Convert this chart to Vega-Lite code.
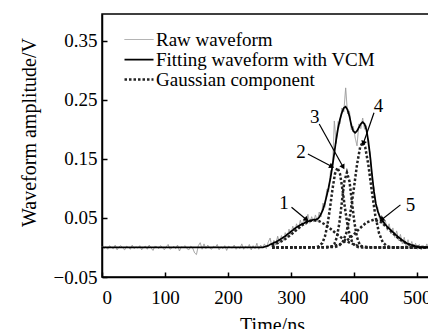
{
"$schema":"https://vega.github.io/schema/vega-lite/v6.json",
"autosize":"none",
"padding":{"left":102,"top":14,"right":-14,"bottom":52},
"width":340,"height":263,
"background":"white",
"config":{
 "font":"Liberation Serif",
 "view":{"stroke":"black","strokeWidth":1.5},
 "axis":{"grid":false,"domainColor":"black","domainWidth":1.5,"tickColor":"black","tickWidth":1.5,"tickSize":-5,"labelColor":"black","titleColor":"black","labelFont":"Liberation Serif","titleFont":"Liberation Serif","labelFontSize":19,"titleFontSize":20,"titleFontWeight":"normal"},
 "legend":{"orient":"none","legendX":21,"legendY":16,"padding":0,"rowPadding":0,"clipHeight":19,"symbolType":"stroke","symbolSize":841,"labelFont":"Liberation Serif","labelFontSize":19,"labelColor":"black","labelOffset":1,"title":null,"labelLimit":400}
},
"layer":[
{
"data":{"values":[
{"s":"raw","c":"raw","t":0,"v":0.002},{"s":"raw","c":"raw","t":3,"v":-0.002},{"s":"raw","c":"raw","t":6,"v":0.001},{"s":"raw","c":"raw","t":9,"v":-0.003},{"s":"raw","c":"raw","t":12,"v":0.003},{"s":"raw","c":"raw","t":15,"v":0},{"s":"raw","c":"raw","t":18,"v":-0.002},{"s":"raw","c":"raw","t":21,"v":0.004},{"s":"raw","c":"raw","t":24,"v":-0.004},{"s":"raw","c":"raw","t":27,"v":0.001},{"s":"raw","c":"raw","t":30,"v":0.003},{"s":"raw","c":"raw","t":33,"v":-0.001},{"s":"raw","c":"raw","t":36,"v":-0.004},{"s":"raw","c":"raw","t":39,"v":0.002},{"s":"raw","c":"raw","t":42,"v":0},{"s":"raw","c":"raw","t":45,"v":-0.003},{"s":"raw","c":"raw","t":48,"v":0.004},{"s":"raw","c":"raw","t":51,"v":-0.002},{"s":"raw","c":"raw","t":54,"v":0.001},{"s":"raw","c":"raw","t":57,"v":-0.001},{"s":"raw","c":"raw","t":60,"v":0.003},{"s":"raw","c":"raw","t":63,"v":-0.004},{"s":"raw","c":"raw","t":66,"v":0},{"s":"raw","c":"raw","t":69,"v":0.002},{"s":"raw","c":"raw","t":72,"v":-0.003},{"s":"raw","c":"raw","t":75,"v":0.004},{"s":"raw","c":"raw","t":78,"v":-0.001},{"s":"raw","c":"raw","t":81,"v":-0.005},{"s":"raw","c":"raw","t":84,"v":0.002},{"s":"raw","c":"raw","t":87,"v":0.001},{"s":"raw","c":"raw","t":90,"v":-0.002},{"s":"raw","c":"raw","t":93,"v":0.003},{"s":"raw","c":"raw","t":96,"v":0},{"s":"raw","c":"raw","t":99,"v":-0.004},{"s":"raw","c":"raw","t":102,"v":0.001},{"s":"raw","c":"raw","t":105,"v":0.005},{"s":"raw","c":"raw","t":108,"v":-0.003},{"s":"raw","c":"raw","t":111,"v":-0.001},{"s":"raw","c":"raw","t":114,"v":0.002},{"s":"raw","c":"raw","t":117,"v":-0.002},{"s":"raw","c":"raw","t":120,"v":0.004},{"s":"raw","c":"raw","t":123,"v":-0.006},{"s":"raw","c":"raw","t":126,"v":0.001},{"s":"raw","c":"raw","t":129,"v":0},{"s":"raw","c":"raw","t":132,"v":0.003},{"s":"raw","c":"raw","t":135,"v":-0.002},{"s":"raw","c":"raw","t":138,"v":-0.004},{"s":"raw","c":"raw","t":141,"v":0.002},{"s":"raw","c":"raw","t":144,"v":-0.001},{"s":"raw","c":"raw","t":147,"v":-0.009},{"s":"raw","c":"raw","t":150,"v":-0.012},{"s":"raw","c":"raw","t":153,"v":0.003},{"s":"raw","c":"raw","t":156,"v":0.008},{"s":"raw","c":"raw","t":159,"v":-0.003},{"s":"raw","c":"raw","t":162,"v":0.006},{"s":"raw","c":"raw","t":165,"v":-0.002},{"s":"raw","c":"raw","t":168,"v":0.004},{"s":"raw","c":"raw","t":171,"v":-0.001},{"s":"raw","c":"raw","t":174,"v":-0.003},{"s":"raw","c":"raw","t":177,"v":0.002},{"s":"raw","c":"raw","t":180,"v":0},{"s":"raw","c":"raw","t":183,"v":0.005},{"s":"raw","c":"raw","t":186,"v":-0.004},{"s":"raw","c":"raw","t":189,"v":0.001},{"s":"raw","c":"raw","t":192,"v":-0.002},{"s":"raw","c":"raw","t":195,"v":0.003},{"s":"raw","c":"raw","t":198,"v":-0.005},{"s":"raw","c":"raw","t":201,"v":0.002},{"s":"raw","c":"raw","t":204,"v":0},{"s":"raw","c":"raw","t":207,"v":-0.001},{"s":"raw","c":"raw","t":210,"v":0.004},{"s":"raw","c":"raw","t":213,"v":-0.003},{"s":"raw","c":"raw","t":216,"v":0.001},{"s":"raw","c":"raw","t":219,"v":-0.002},{"s":"raw","c":"raw","t":222,"v":0.006},{"s":"raw","c":"raw","t":225,"v":-0.003},{"s":"raw","c":"raw","t":228,"v":0.002},{"s":"raw","c":"raw","t":231,"v":-0.001},{"s":"raw","c":"raw","t":234,"v":0.005},{"s":"raw","c":"raw","t":237,"v":-0.004},{"s":"raw","c":"raw","t":240,"v":0.003},{"s":"raw","c":"raw","t":243,"v":-0.002},{"s":"raw","c":"raw","t":246,"v":0.007},{"s":"raw","c":"raw","t":249,"v":-0.003},{"s":"raw","c":"raw","t":252,"v":0.004},{"s":"raw","c":"raw","t":255,"v":-0.001},{"s":"raw","c":"raw","t":258,"v":0.006},{"s":"raw","c":"raw","t":261,"v":-0.002},{"s":"raw","c":"raw","t":264,"v":0.009},{"s":"raw","c":"raw","t":267,"v":0.016},{"s":"raw","c":"raw","t":270,"v":0.001},{"s":"raw","c":"raw","t":273,"v":0.012},{"s":"raw","c":"raw","t":276,"v":0.004},{"s":"raw","c":"raw","t":279,"v":0.019},{"s":"raw","c":"raw","t":282,"v":0.008},{"s":"raw","c":"raw","t":285,"v":0.02},{"s":"raw","c":"raw","t":288,"v":0.012},{"s":"raw","c":"raw","t":291,"v":0.025},{"s":"raw","c":"raw","t":294,"v":0.017},{"s":"raw","c":"raw","t":297,"v":0.031},{"s":"raw","c":"raw","t":300,"v":0.022},{"s":"raw","c":"raw","t":303,"v":0.036},{"s":"raw","c":"raw","t":306,"v":0.027},{"s":"raw","c":"raw","t":309,"v":0.04},{"s":"raw","c":"raw","t":312,"v":0.031},{"s":"raw","c":"raw","t":315,"v":0.046},{"s":"raw","c":"raw","t":318,"v":0.036},{"s":"raw","c":"raw","t":321,"v":0.049},{"s":"raw","c":"raw","t":324,"v":0.038},{"s":"raw","c":"raw","t":327,"v":0.056},{"s":"raw","c":"raw","t":330,"v":0.041},{"s":"raw","c":"raw","t":333,"v":0.052},{"s":"raw","c":"raw","t":336,"v":0.043},{"s":"raw","c":"raw","t":339,"v":0.055},{"s":"raw","c":"raw","t":342,"v":0.044},{"s":"raw","c":"raw","t":345,"v":0.06},{"s":"raw","c":"raw","t":348,"v":0.052},{"s":"raw","c":"raw","t":351,"v":0.075},{"s":"raw","c":"raw","t":354,"v":0.068},{"s":"raw","c":"raw","t":357,"v":0.098},{"s":"raw","c":"raw","t":360,"v":0.094},{"s":"raw","c":"raw","t":363,"v":0.13},{"s":"raw","c":"raw","t":366,"v":0.131},{"s":"raw","c":"raw","t":369,"v":0.214},{"s":"raw","c":"raw","t":372,"v":0.176},{"s":"raw","c":"raw","t":375,"v":0.213},{"s":"raw","c":"raw","t":378,"v":0.209},{"s":"raw","c":"raw","t":381,"v":0.236},{"s":"raw","c":"raw","t":384,"v":0.229},{"s":"raw","c":"raw","t":387,"v":0.27},{"s":"raw","c":"raw","t":390,"v":0.226},{"s":"raw","c":"raw","t":393,"v":0.231},{"s":"raw","c":"raw","t":396,"v":0.199},{"s":"raw","c":"raw","t":399,"v":0.205},{"s":"raw","c":"raw","t":402,"v":0.186},{"s":"raw","c":"raw","t":405,"v":0.172},{"s":"raw","c":"raw","t":408,"v":0.209},{"s":"raw","c":"raw","t":411,"v":0.201},{"s":"raw","c":"raw","t":414,"v":0.219},{"s":"raw","c":"raw","t":417,"v":0.2},{"s":"raw","c":"raw","t":420,"v":0.206},{"s":"raw","c":"raw","t":423,"v":0.171},{"s":"raw","c":"raw","t":426,"v":0.16},{"s":"raw","c":"raw","t":429,"v":0.115},{"s":"raw","c":"raw","t":432,"v":0.101},{"s":"raw","c":"raw","t":435,"v":0.068},{"s":"raw","c":"raw","t":438,"v":0.068},{"s":"raw","c":"raw","t":441,"v":0.047},{"s":"raw","c":"raw","t":444,"v":0.054},{"s":"raw","c":"raw","t":447,"v":0.036},{"s":"raw","c":"raw","t":450,"v":0.046},{"s":"raw","c":"raw","t":453,"v":0.029},{"s":"raw","c":"raw","t":456,"v":0.04},{"s":"raw","c":"raw","t":459,"v":0.023},{"s":"raw","c":"raw","t":462,"v":0.033},{"s":"raw","c":"raw","t":465,"v":0.017},{"s":"raw","c":"raw","t":468,"v":0.028},{"s":"raw","c":"raw","t":471,"v":0.012},{"s":"raw","c":"raw","t":474,"v":0.022},{"s":"raw","c":"raw","t":477,"v":0.006},{"s":"raw","c":"raw","t":480,"v":0.017},{"s":"raw","c":"raw","t":483,"v":0.002},{"s":"raw","c":"raw","t":486,"v":0.013},{"s":"raw","c":"raw","t":489,"v":-0.001},{"s":"raw","c":"raw","t":492,"v":0.01},{"s":"raw","c":"raw","t":495,"v":-0.002},{"s":"raw","c":"raw","t":498,"v":0.007},{"s":"raw","c":"raw","t":501,"v":-0.003},{"s":"raw","c":"raw","t":504,"v":0.005},{"s":"raw","c":"raw","t":507,"v":-0.004},{"s":"raw","c":"raw","t":510,"v":0.003},{"s":"raw","c":"raw","t":513,"v":-0.002},{"s":"raw","c":"raw","t":516,"v":0.006},{"s":"raw","c":"raw","t":519,"v":-0.003},{"s":"raw","c":"raw","t":522,"v":0.002},{"s":"raw","c":"raw","t":525,"v":-0.004},{"s":"raw","c":"raw","t":528,"v":0.003},{"s":"raw","c":"raw","t":531,"v":0},{"s":"raw","c":"raw","t":534,"v":-0.003},{"s":"raw","c":"raw","t":537,"v":0.004},{"s":"raw","c":"raw","t":540,"v":-0.001},

{"s":"gau","c":"g1","t":270,"v":0.0038},{"s":"gau","c":"g1","t":280,"v":0.0076},{"s":"gau","c":"g1","t":290,"v":0.0135},{"s":"gau","c":"g1","t":300,"v":0.0215},{"s":"gau","c":"g1","t":310,"v":0.0307},{"s":"gau","c":"g1","t":320,"v":0.0392},{"s":"gau","c":"g1","t":330,"v":0.0448},{"s":"gau","c":"g1","t":337,"v":0.046},{"s":"gau","c":"g1","t":345,"v":0.0444},{"s":"gau","c":"g1","t":355,"v":0.0384},{"s":"gau","c":"g1","t":365,"v":0.0298},{"s":"gau","c":"g1","t":375,"v":0.0206},{"s":"gau","c":"g1","t":385,"v":0.0128},{"s":"gau","c":"g1","t":395,"v":0.0071},{"s":"gau","c":"g1","t":405,"v":0.0035},{"s":"gau","c":"g1","t":415,"v":0.0016},{"s":"gau","c":"g1","t":425,"v":0.0006},{"s":"gau","c":"g1","t":440,"v":0.0001},{"s":"gau","c":"g1","t":460,"v":0},{"s":"gau","c":"g1","t":540,"v":0},

{"s":"gau","c":"g2","t":270,"v":0},{"s":"gau","c":"g2","t":335,"v":0.0001},{"s":"gau","c":"g2","t":340,"v":0.0004},{"s":"gau","c":"g2","t":345,"v":0.002},{"s":"gau","c":"g2","t":350,"v":0.0076},{"s":"gau","c":"g2","t":354,"v":0.0183},{"s":"gau","c":"g2","t":358,"v":0.0375},{"s":"gau","c":"g2","t":362,"v":0.0657},{"s":"gau","c":"g2","t":366,"v":0.098},{"s":"gau","c":"g2","t":370,"v":0.1246},{"s":"gau","c":"g2","t":374,"v":0.135},{"s":"gau","c":"g2","t":378,"v":0.1246},{"s":"gau","c":"g2","t":382,"v":0.098},{"s":"gau","c":"g2","t":386,"v":0.0657},{"s":"gau","c":"g2","t":390,"v":0.0375},{"s":"gau","c":"g2","t":394,"v":0.0183},{"s":"gau","c":"g2","t":398,"v":0.0076},{"s":"gau","c":"g2","t":403,"v":0.002},{"s":"gau","c":"g2","t":408,"v":0.0004},{"s":"gau","c":"g2","t":413,"v":0},{"s":"gau","c":"g2","t":540,"v":0},

{"s":"gau","c":"g3","t":270,"v":0},{"s":"gau","c":"g3","t":360,"v":0.0002},{"s":"gau","c":"g3","t":365,"v":0.0014},{"s":"gau","c":"g3","t":369,"v":0.0056},{"s":"gau","c":"g3","t":373,"v":0.0172},{"s":"gau","c":"g3","t":377,"v":0.0412},{"s":"gau","c":"g3","t":381,"v":0.077},{"s":"gau","c":"g3","t":385,"v":0.1121},{"s":"gau","c":"g3","t":389,"v":0.127},{"s":"gau","c":"g3","t":393,"v":0.1121},{"s":"gau","c":"g3","t":397,"v":0.077},{"s":"gau","c":"g3","t":401,"v":0.0412},{"s":"gau","c":"g3","t":405,"v":0.0172},{"s":"gau","c":"g3","t":409,"v":0.0056},{"s":"gau","c":"g3","t":413,"v":0.0014},{"s":"gau","c":"g3","t":418,"v":0.0002},{"s":"gau","c":"g3","t":423,"v":0},{"s":"gau","c":"g3","t":540,"v":0},

{"s":"gau","c":"g4","t":270,"v":0},{"s":"gau","c":"g4","t":370,"v":0.0006},{"s":"gau","c":"g4","t":376,"v":0.0025},{"s":"gau","c":"g4","t":382,"v":0.0086},{"s":"gau","c":"g4","t":388,"v":0.0241},{"s":"gau","c":"g4","t":394,"v":0.0545},{"s":"gau","c":"g4","t":400,"v":0.0997},{"s":"gau","c":"g4","t":405,"v":0.14},{"s":"gau","c":"g4","t":410,"v":0.1698},{"s":"gau","c":"g4","t":414,"v":0.178},{"s":"gau","c":"g4","t":418,"v":0.1698},{"s":"gau","c":"g4","t":423,"v":0.14},{"s":"gau","c":"g4","t":428,"v":0.0997},{"s":"gau","c":"g4","t":434,"v":0.0545},{"s":"gau","c":"g4","t":440,"v":0.0241},{"s":"gau","c":"g4","t":446,"v":0.0086},{"s":"gau","c":"g4","t":452,"v":0.0025},{"s":"gau","c":"g4","t":458,"v":0.0006},{"s":"gau","c":"g4","t":465,"v":0},{"s":"gau","c":"g4","t":540,"v":0},

{"s":"gau","c":"g5","t":270,"v":0},{"s":"gau","c":"g5","t":350,"v":0.0003},{"s":"gau","c":"g5","t":360,"v":0.001},{"s":"gau","c":"g5","t":370,"v":0.0027},{"s":"gau","c":"g5","t":380,"v":0.0064},{"s":"gau","c":"g5","t":390,"v":0.0127},{"s":"gau","c":"g5","t":400,"v":0.022},{"s":"gau","c":"g5","t":410,"v":0.0329},{"s":"gau","c":"g5","t":420,"v":0.0423},{"s":"gau","c":"g5","t":432,"v":0.047},{"s":"gau","c":"g5","t":444,"v":0.0423},{"s":"gau","c":"g5","t":454,"v":0.0329},{"s":"gau","c":"g5","t":464,"v":0.022},{"s":"gau","c":"g5","t":474,"v":0.0127},{"s":"gau","c":"g5","t":484,"v":0.0064},{"s":"gau","c":"g5","t":494,"v":0.0027},{"s":"gau","c":"g5","t":504,"v":0.001},{"s":"gau","c":"g5","t":514,"v":0.0003},{"s":"gau","c":"g5","t":525,"v":0},{"s":"gau","c":"g5","t":540,"v":0},

{"s":"fit","c":"fit","t":0,"v":0},{"s":"fit","c":"fit","t":255,"v":0},{"s":"fit","c":"fit","t":258,"v":0.001},{"s":"fit","c":"fit","t":261,"v":0.002},{"s":"fit","c":"fit","t":264,"v":0.003},{"s":"fit","c":"fit","t":267,"v":0.005},{"s":"fit","c":"fit","t":270,"v":0.006},{"s":"fit","c":"fit","t":273,"v":0.008},{"s":"fit","c":"fit","t":276,"v":0.009},{"s":"fit","c":"fit","t":279,"v":0.011},{"s":"fit","c":"fit","t":282,"v":0.013},{"s":"fit","c":"fit","t":285,"v":0.015},{"s":"fit","c":"fit","t":288,"v":0.017},{"s":"fit","c":"fit","t":291,"v":0.019},{"s":"fit","c":"fit","t":294,"v":0.022},{"s":"fit","c":"fit","t":297,"v":0.024},{"s":"fit","c":"fit","t":300,"v":0.027},{"s":"fit","c":"fit","t":303,"v":0.029},{"s":"fit","c":"fit","t":306,"v":0.032},{"s":"fit","c":"fit","t":309,"v":0.034},{"s":"fit","c":"fit","t":312,"v":0.036},{"s":"fit","c":"fit","t":315,"v":0.038},{"s":"fit","c":"fit","t":318,"v":0.04},{"s":"fit","c":"fit","t":321,"v":0.041},{"s":"fit","c":"fit","t":324,"v":0.043},{"s":"fit","c":"fit","t":327,"v":0.044},{"s":"fit","c":"fit","t":330,"v":0.045},{"s":"fit","c":"fit","t":333,"v":0.046},{"s":"fit","c":"fit","t":336,"v":0.047},{"s":"fit","c":"fit","t":339,"v":0.047},{"s":"fit","c":"fit","t":342,"v":0.048},{"s":"fit","c":"fit","t":345,"v":0.051},{"s":"fit","c":"fit","t":348,"v":0.057},{"s":"fit","c":"fit","t":351,"v":0.064},{"s":"fit","c":"fit","t":354,"v":0.075},{"s":"fit","c":"fit","t":357,"v":0.088},{"s":"fit","c":"fit","t":360,"v":0.102},{"s":"fit","c":"fit","t":363,"v":0.118},{"s":"fit","c":"fit","t":366,"v":0.138},{"s":"fit","c":"fit","t":369,"v":0.16},{"s":"fit","c":"fit","t":372,"v":0.183},{"s":"fit","c":"fit","t":375,"v":0.202},{"s":"fit","c":"fit","t":378,"v":0.217},{"s":"fit","c":"fit","t":381,"v":0.228},{"s":"fit","c":"fit","t":384,"v":0.236},{"s":"fit","c":"fit","t":387,"v":0.238},{"s":"fit","c":"fit","t":390,"v":0.233},{"s":"fit","c":"fit","t":393,"v":0.222},{"s":"fit","c":"fit","t":396,"v":0.207},{"s":"fit","c":"fit","t":399,"v":0.197},{"s":"fit","c":"fit","t":402,"v":0.194},{"s":"fit","c":"fit","t":405,"v":0.197},{"s":"fit","c":"fit","t":408,"v":0.203},{"s":"fit","c":"fit","t":411,"v":0.209},{"s":"fit","c":"fit","t":414,"v":0.212},{"s":"fit","c":"fit","t":417,"v":0.209},{"s":"fit","c":"fit","t":420,"v":0.199},{"s":"fit","c":"fit","t":423,"v":0.18},{"s":"fit","c":"fit","t":426,"v":0.153},{"s":"fit","c":"fit","t":429,"v":0.122},{"s":"fit","c":"fit","t":432,"v":0.094},{"s":"fit","c":"fit","t":435,"v":0.074},{"s":"fit","c":"fit","t":438,"v":0.061},{"s":"fit","c":"fit","t":441,"v":0.053},{"s":"fit","c":"fit","t":444,"v":0.047},{"s":"fit","c":"fit","t":447,"v":0.043},{"s":"fit","c":"fit","t":450,"v":0.039},{"s":"fit","c":"fit","t":453,"v":0.035},{"s":"fit","c":"fit","t":456,"v":0.032},{"s":"fit","c":"fit","t":459,"v":0.029},{"s":"fit","c":"fit","t":462,"v":0.026},{"s":"fit","c":"fit","t":465,"v":0.023},{"s":"fit","c":"fit","t":468,"v":0.02},{"s":"fit","c":"fit","t":471,"v":0.017},{"s":"fit","c":"fit","t":474,"v":0.015},{"s":"fit","c":"fit","t":477,"v":0.012},{"s":"fit","c":"fit","t":480,"v":0.01},{"s":"fit","c":"fit","t":483,"v":0.008},{"s":"fit","c":"fit","t":486,"v":0.006},{"s":"fit","c":"fit","t":489,"v":0.005},{"s":"fit","c":"fit","t":492,"v":0.004},{"s":"fit","c":"fit","t":495,"v":0.003},{"s":"fit","c":"fit","t":498,"v":0.002},{"s":"fit","c":"fit","t":501,"v":0.001},{"s":"fit","c":"fit","t":504,"v":0},{"s":"fit","c":"fit","t":540,"v":0}
]},
"mark":{"type":"line","strokeCap":"butt"},
"encoding":{
 "x":{"field":"t","type":"quantitative","scale":{"domain":[0,540],"nice":false,"zero":false},"axis":{"values":[0,100,200,300,400,500],"title":"Time/ns","labelFont":"Liberation Serif","titleFont":"Liberation Serif","labelPadding":16,"titleBaseline":"alphabetic","titleY":54}},
 "y":{"field":"v","type":"quantitative","scale":{"domain":[-0.05,0.395],"nice":false,"zero":false},"axis":{"values":[-0.05,0.05,0.15,0.25,0.35],"format":".2f","title":"Waveform amplitude/V","labelFont":"Liberation Serif","titleFont":"Liberation Serif","labelPadding":10,"titleBaseline":"alphabetic","titleX":-67,"titleY":118}},
 "detail":{"field":"c"},
 "color":{"field":"s","type":"nominal","scale":{"domain":["raw","fit","gau"],"range":["#9a9a9a","#000000","#222222"]},"legend":{"labelExpr":"datum.label == 'raw' ? 'Raw waveform' : datum.label == 'fit' ? 'Fitting waveform with VCM' : 'Gaussian component'"}},
 "strokeDash":{"field":"s","type":"nominal","scale":{"domain":["raw","fit","gau"],"range":[[1,0],[1,0],[2.5,2]]}},
 "strokeWidth":{"field":"s","type":"nominal","scale":{"domain":["raw","fit","gau"],"range":[1,2.5,2]}}
}
},
{
"data":{"name":"ann","values":[
{"n":"1","tx":289,"ty":0.076,"x1":301,"y1":0.068,"x2":325,"y2":0.047},
{"n":"2","tx":316,"ty":0.161,"x1":327,"y1":0.158,"x2":365,"y2":0.137},
{"n":"3","tx":338,"ty":0.22,"x1":345,"y1":0.209,"x2":383,"y2":0.136},
{"n":"4","tx":439,"ty":0.239,"x1":432,"y1":0.228,"x2":415,"y2":0.176},
{"n":"5","tx":490,"ty":0.072,"x1":474,"y1":0.072,"x2":444,"y2":0.047}
]},
"mark":{"type":"rule","color":"black","strokeWidth":1.2},
"encoding":{"x":{"field":"x1","type":"quantitative"},"y":{"field":"y1","type":"quantitative"},"x2":{"field":"x2"},"y2":{"field":"y2"}}
},
{
"data":{"name":"ann"},
"transform":[{"calculate":"atan2((datum.x2-datum.x1)*0.63,(datum.y2-datum.y1)*591)*180/PI","as":"ang"}],
"mark":{"type":"point","shape":"triangle-up","filled":true,"color":"black","size":35,"opacity":1},
"encoding":{"x":{"field":"x2","type":"quantitative"},"y":{"field":"y2","type":"quantitative"},"angle":{"field":"ang","type":"quantitative","scale":null}}
},
{
"data":{"name":"ann"},
"mark":{"type":"text","font":"Liberation Serif","fontSize":19,"color":"black","align":"center","baseline":"middle"},
"encoding":{"x":{"field":"tx","type":"quantitative"},"y":{"field":"ty","type":"quantitative"},"text":{"field":"n"}}
}
]
}
